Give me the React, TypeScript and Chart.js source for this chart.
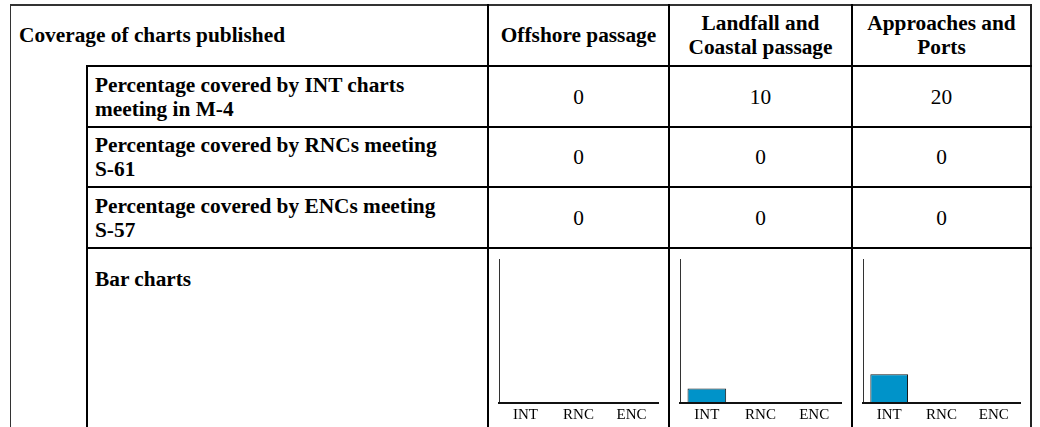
import React, { useEffect, useRef } from "react";
import { Chart, registerables } from "chart.js";

Chart.register(...registerables);

// ---------- data ----------
const headerTitle = "Coverage of charts published";
const passageTypes = ["Offshore passage", "Landfall and\nCoastal passage", "Approaches and\nPorts"];
const rowLabels = [
  "Percentage covered by INT charts\nmeeting in M-4",
  "Percentage covered by RNCs meeting\nS-61",
  "Percentage covered by ENCs meeting\nS-57",
];
const barRowLabel = "Bar charts";
const chartTypes = ["INT", "RNC", "ENC"];
const intValues = [0, 10, 20];
const rncValues = [0, 0, 0];
const encValues = [0, 0, 0];
const yMax = 100;

// ---------- layout ----------
const SERIF = "'Liberation Serif', 'Times New Roman', Times, serif";
const FONT_PX = 21.33;
const colLines = [488, 669, 852, 1031]; // centers of vertical lines
const rowLines = [5, 66, 127, 187, 248]; // centers of horizontal lines
const indentX = 87;

const seriesRows = [intValues, rncValues, encValues];

function MiniBar({ values, left, top, width, height }: { values: number[]; left: number; top: number; width: number; height: number }) {
  const ref = useRef<HTMLCanvasElement>(null);
  useEffect(() => {
    const chart = new Chart(ref.current!, {
      type: "bar",
      data: {
        labels: chartTypes,
        datasets: [
          {
            data: values,
            backgroundColor: "#0093c9",
            borderColor: "#1a1a1a",
            borderWidth: 1,
            categoryPercentage: 0.8,
            barPercentage: 0.9,
          },
        ],
      },
      options: {
        responsive: false,
        animation: false,
        devicePixelRatio: 1,
        layout: { padding: { left: 10, right: 10, top: 10, bottom: 0 } },
        plugins: { legend: { display: false }, tooltip: { enabled: false } },
        scales: {
          x: {
            grid: { display: false, drawTicks: false },
            border: { display: true, color: "#111", width: 2, z: 1 },
            ticks: {
              color: "#000",
              padding: 3,
              font: { family: SERIF, size: 15, lineHeight: 1.2 },
            },
          },
          y: {
            min: 0,
            max: yMax,
            grid: { display: false, drawTicks: false },
            border: { display: true, color: "#333", width: 1 },
            ticks: { display: false },
          },
        },
      },
    });
    return () => chart.destroy();
  }, []);
  return (
    <canvas
      ref={ref}
      width={width}
      height={height}
      style={{ position: "absolute", left, top, width, height, display: "block" }}
    />
  );
}

function Line({ x, y, w, h, color = "#000" }: { x: number; y: number; w: number; h: number; color?: string }) {
  return <div style={{ position: "absolute", left: x, top: y, width: w, height: h, background: color }} />;
}

function Cell({
  x1, x2, y1, y2, children, align = "center", bold = true, padLeft = 0, valign = "center", padTop = 0,
}: {
  x1: number; x2: number; y1: number; y2: number; children: React.ReactNode;
  align?: "center" | "left"; bold?: boolean; padLeft?: number; valign?: "center" | "top"; padTop?: number;
}) {
  return (
    <div
      style={{
        position: "absolute",
        left: x1,
        top: y1,
        width: x2 - x1,
        height: y2 - y1,
        display: "flex",
        alignItems: valign === "center" ? "center" : "flex-start",
        justifyContent: align === "center" ? "center" : "flex-start",
        textAlign: align,
        paddingLeft: padLeft,
        paddingTop: padTop,
        boxSizing: "border-box",
        fontFamily: SERIF,
        fontSize: FONT_PX,
        lineHeight: "24px",
        fontWeight: bold ? 700 : 400,
        whiteSpace: "pre-line",
        color: "#000",
      }}
    >
      <div>{children}</div>
    </div>
  );
}

export default function App() {
  const bottom = 480;
  return (
    <div style={{ position: "relative", width: 1040, height: 427, overflow: "hidden", background: "#fff" }}>
      <style>{`html,body{margin:0;padding:0;overflow:hidden;background:#fff}`}</style>

      {/* header cells */}
      <Cell x1={11} x2={colLines[0] - 1} y1={5} y2={64} align="left" padLeft={8}>
        {headerTitle}
      </Cell>
      {passageTypes.map((p, i) => (
        <Cell key={p} x1={colLines[i] + 1} x2={colLines[i + 1] - 1} y1={5} y2={64}>
          {p}
        </Cell>
      ))}

      {/* value rows */}
      {rowLabels.map((lab, r) => (
        <React.Fragment key={lab}>
          <Cell x1={indentX + 1} x2={colLines[0] - 1} y1={rowLines[r + 1] + 1} y2={rowLines[r + 2] - 1} align="left" padLeft={7}>
            {lab}
          </Cell>
          {passageTypes.map((p, c) => (
            <Cell key={p} x1={colLines[c] + 1} x2={colLines[c + 1] - 1} y1={rowLines[r + 1] + 1} y2={rowLines[r + 2] - 1} bold={false}>
              {String(seriesRows[r][c])}
            </Cell>
          ))}
        </React.Fragment>
      ))}

      {/* bar chart row */}
      <Cell x1={indentX + 1} x2={colLines[0] - 1} y1={249} y2={bottom} align="left" padLeft={7} valign="top" padTop={18}>
        {barRowLabel}
      </Cell>
      {passageTypes.map((p, c) => (
        <MiniBar
          key={p}
          values={[intValues[c], rncValues[c], encValues[c]]}
          left={colLines[c] + 1}
          top={249}
          width={colLines[c + 1] - colLines[c] - 2}
          height={178}
        />
      ))}

      {/* outer border */}
      <Line x={10} y={4} w={1022} h={2} color="#333" />
      <Line x={10} y={4} w={1} h={bottom} color="#333" />
      <Line x={1030} y={4} w={2} h={bottom} color="#222" />

      {/* vertical lines */}
      {colLines.slice(0, 3).map((x) => (
        <Line key={x} x={x - 1} y={4} w={2} h={bottom} />
      ))}
      <Line x={indentX - 1} y={65} w={2} h={bottom} />

      {/* horizontal lines */}
      {rowLines.slice(1).map((y) => (
        <Line key={y} x={indentX - 1} y={y - 1} w={1032 - indentX + 1} h={2} />
      ))}
    </div>
  );
}
